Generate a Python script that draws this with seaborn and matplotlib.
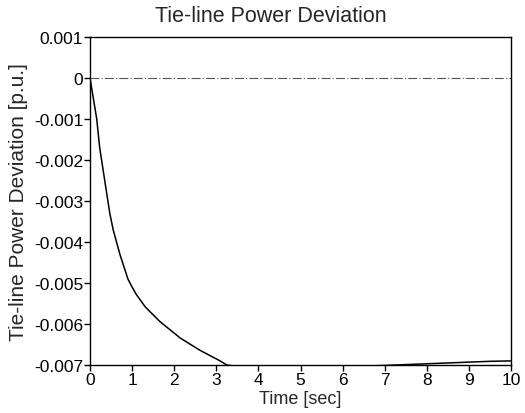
import matplotlib
matplotlib.use("Agg")
import matplotlib.pyplot as plt
import seaborn as sns
import pandas as pd
from matplotlib.ticker import FuncFormatter

# Data
time_s = [0, 0.08, 0.16, 0.23, 0.29, 0.35, 0.47, 0.55, 0.71, 0.90, 1.00, 1.10,
          1.31, 1.66, 2.14, 2.61, 3.09, 3.25, 3.6, 4, 5, 6, 7, 8, 9, 9.5, 10]
deviation = [0, -0.0005, -0.0010, -0.0017, -0.0021, -0.0025, -0.0033, -0.0037,
             -0.0043, -0.0049, -0.0051, -0.00528, -0.00558, -0.00594, -0.00634,
             -0.00664, -0.00690, -0.00700, -0.00705, -0.00707, -0.00708,
             -0.00705, -0.00701, -0.00697, -0.00693, -0.00691, -0.0069]
x_ticks = [0, 1, 2, 3, 4, 5, 6, 7, 8, 9, 10]
y_ticks = [0.001, 0, -0.001, -0.002, -0.003, -0.004, -0.005, -0.006, -0.007]

df = pd.DataFrame({"Time": time_s, "Dev": deviation})

sns.set_style("ticks")
plt.rcParams["font.family"] = ["Liberation Sans", "DejaVu Sans"]

fig = plt.figure(figsize=(5.25, 4.14), dpi=100)
ax = fig.add_axes([90/525, 1-366/414, (511-90)/525, (366-38)/414])

ax.axhline(0, color="#555555", lw=0.8, ls=(0, (8, 2, 1, 2)))
sns.lineplot(data=df, x="Time", y="Dev", ax=ax, color="black", lw=1.1,
             estimator=None, sort=False)

ax.set_xlim(0, 10)
ax.set_ylim(-0.007, 0.001)
ax.set_xticks(x_ticks)
ax.set_yticks(y_ticks)

def yfmt(v, pos):
    if abs(v) < 1e-12:
        return "0"
    return f"{v:.3f}"
ax.yaxis.set_major_formatter(FuncFormatter(yfmt))

ax.tick_params(axis="both", direction="out", length=4, width=1, colors="black",
               labelsize=12.5, pad=1)
for s in ax.spines.values():
    s.set_visible(True)
    s.set_color("black")
    s.set_linewidth(1.0)

ax.set_xlabel("Time [sec]", fontsize=13, labelpad=2)
ax.set_ylabel("Tie-line Power Deviation [p.u.]", fontsize=15, labelpad=4)
fig.text(271/525, 1-17/414, "Tie-line Power Deviation", fontsize=15.5,
         ha="center", va="center")

fig.savefig("out.png", dpi=100)
